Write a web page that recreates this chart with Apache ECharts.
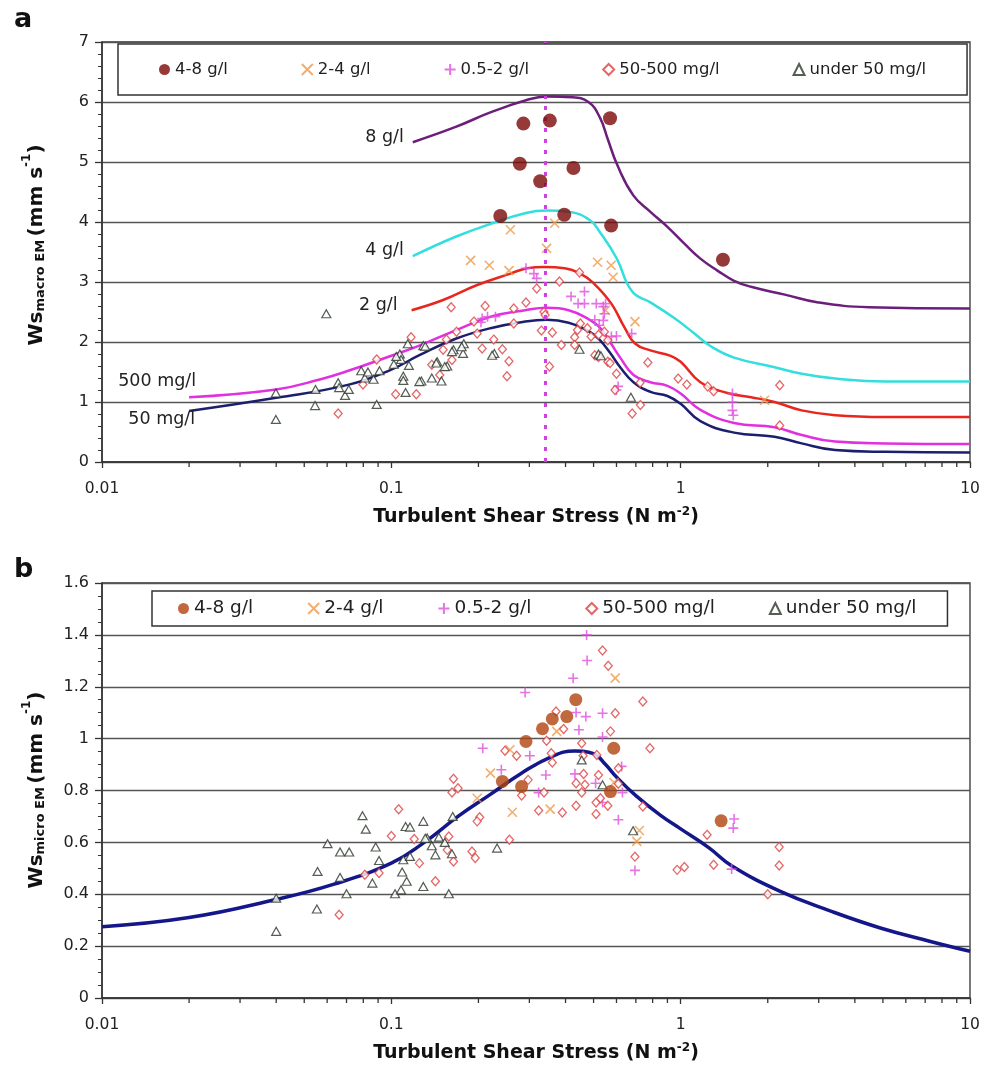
<!DOCTYPE html>
<html><head><meta charset="utf-8">
<script src="https://cdn.jsdelivr.net/npm/echarts@6/dist/echarts.min.js"></script>
<style>html,body{margin:0;padding:0;background:#fff}#c{width:988px;height:1070px}</style>
</head><body><div id="c"></div>
<script>
// ---------- shared ----------
const xTickMinor = [0.02,0.03,0.04,0.05,0.06,0.07,0.08,0.09,0.2,0.3,0.4,0.5,0.6,0.7,0.8,0.9,2,3,4,5,6,7,8,9];
const groupNames = ['4-8 g/l','2-4 g/l','0.5-2 g/l','50-500 mg/l','under 50 mg/l'];
const curveNames = ['8 g/l','4 g/l','2 g/l','500 mg/l','50 mg/l'];
const peakStress = 0.337;

// ---------- panel a : Ws macro ----------
const a_48 = [[0.286,5.64],[0.353,5.69],[0.57,5.73],[0.278,4.97],[0.426,4.9],[0.327,4.68],[0.238,4.1],[0.396,4.12],[0.575,3.94],[1.4,3.37]];
const a_24 = [[0.258,3.87],[0.344,3.56],[0.367,3.98],[0.188,3.36],[0.218,3.28],[0.255,3.19],[0.516,3.33],[0.575,3.28],[0.584,3.08],[0.55,2.53],[0.695,2.34],[1.95,1.03]];
const a_052 = [[0.292,3.23],[0.311,3.14],[0.318,3.06],[0.206,2.39],[0.215,2.42],[0.229,2.42],[0.204,2.33],[0.418,2.76],[0.465,2.84],[0.442,2.64],[0.465,2.64],[0.511,2.64],[0.55,2.64],[0.505,2.37],[0.523,2.28],[0.576,2.09],[0.6,2.1],[0.677,2.14],[0.608,1.26],[0.6,1.2],[0.54,2.59],[0.545,2.47],[0.54,2.36],[1.51,1.14],[1.51,1.0],[1.51,0.86],[1.52,0.78]];
const a_50500 = [[0.117,2.08],[0.161,2.58],[0.211,2.6],[0.265,2.56],[0.292,2.66],[0.318,2.89],[0.381,3.01],[0.447,3.16],[0.193,2.34],[0.198,2.14],[0.265,2.31],[0.337,2.5],[0.34,2.45],[0.33,2.19],[0.36,2.16],[0.387,1.95],[0.352,1.59],[0.168,2.17],[0.155,2.04],[0.151,1.87],[0.206,1.89],[0.226,2.04],[0.242,1.88],[0.255,1.68],[0.251,1.43],[0.162,1.7],[0.138,1.62],[0.147,1.45],[0.122,1.13],[0.1035,1.13],[0.089,1.71],[0.43,2.08],[0.44,2.2],[0.43,1.95],[0.45,2.31],[0.476,2.23],[0.49,2.09],[0.52,2.12],[0.545,2.17],[0.56,2.03],[0.505,1.78],[0.52,1.75],[0.56,1.67],[0.6,1.47],[0.593,1.2],[0.724,1.32],[0.726,0.95],[0.68,0.81],[0.77,1.66],[0.98,1.39],[1.05,1.29],[1.24,1.26],[1.3,1.18],[2.2,1.28],[2.2,0.61],[0.0655,0.81],[0.0798,1.29],[0.57,1.65]];
const a_u50 = [[0.0596,2.47],[0.0399,1.15],[0.0399,0.71],[0.0545,0.94],[0.0547,1.21],[0.0655,1.32],[0.066,1.24],[0.0692,1.11],[0.0713,1.21],[0.0787,1.52],[0.081,1.4],[0.083,1.5],[0.0868,1.38],[0.091,1.52],[0.089,0.96],[0.102,1.63],[0.107,1.8],[0.108,1.71],[0.114,1.97],[0.115,1.61],[0.11,1.43],[0.11,1.36],[0.112,1.16],[0.129,1.94],[0.131,1.93],[0.127,1.35],[0.138,1.4],[0.149,1.35],[0.144,1.67],[0.156,1.6],[0.164,1.87],[0.177,1.81],[0.178,1.97],[0.227,1.81],[0.447,1.88],[0.52,1.8],[0.673,1.08],[0.125,1.34],[0.104,1.76],[0.143,1.65],[0.153,1.59],[0.162,1.84],[0.175,1.92],[0.223,1.78],[0.53,1.77]];
const a_c8 = [[0.1186,5.33],[0.166,5.58],[0.221,5.83],[0.292,6.03],[0.345,6.09],[0.42,6.08],[0.48,6.0],[0.526,5.74],[0.56,5.38],[0.605,4.94],[0.687,4.44],[0.786,4.17],[0.9,3.92],[1.03,3.64],[1.17,3.39],[1.34,3.19],[1.53,3.02],[1.75,2.92],[2.29,2.79],[2.99,2.66],[4.47,2.58],[10,2.56]];
const a_c4 = [[0.1186,3.43],[0.166,3.75],[0.221,3.97],[0.292,4.15],[0.345,4.19],[0.41,4.17],[0.486,4.03],[0.526,3.83],[0.6,3.4],[0.68,2.84],[0.786,2.66],[0.95,2.4],[1.11,2.15],[1.27,1.93],[1.53,1.74],[2.11,1.58],[2.62,1.47],[3.42,1.39],[5.1,1.34],[10,1.34]];
const a_c2 = [[0.1175,2.53],[0.151,2.7],[0.198,2.95],[0.258,3.14],[0.295,3.23],[0.338,3.25],[0.397,3.23],[0.45,3.14],[0.5,2.98],[0.576,2.64],[0.64,2.24],[0.697,1.97],[0.786,1.86],[0.923,1.77],[1.0,1.67],[1.17,1.33],[1.45,1.15],[1.75,1.08],[2.11,1.0],[2.62,0.86],[3.42,0.78],[5.1,0.75],[10,0.75]];
const a_c500 = [[0.02,1.08],[0.04,1.21],[0.057,1.38],[0.071,1.52],[0.1,1.77],[0.125,1.94],[0.166,2.19],[0.22,2.42],[0.29,2.53],[0.345,2.57],[0.41,2.53],[0.485,2.37],[0.526,2.24],[0.57,2.0],[0.618,1.74],[0.687,1.45],[0.786,1.33],[0.9,1.27],[1.0,1.14],[1.17,0.87],[1.53,0.65],[2.11,0.58],[2.62,0.45],[3.42,0.34],[5.1,0.31],[10,0.3]];
const a_c50 = [[0.02,0.85],[0.04,1.07],[0.0713,1.29],[0.1,1.54],[0.125,1.78],[0.166,2.05],[0.22,2.23],[0.29,2.34],[0.345,2.37],[0.41,2.32],[0.485,2.17],[0.526,2.03],[0.57,1.82],[0.618,1.58],[0.687,1.33],[0.786,1.17],[0.9,1.1],[1.0,0.97],[1.17,0.68],[1.53,0.49],[2.11,0.42],[2.62,0.31],[3.42,0.2],[5.1,0.17],[10,0.16]];

// ---------- panel b : Ws micro ----------
const b_48 = [[0.434,1.15],[0.404,1.085],[0.36,1.076],[0.333,1.038],[0.292,0.989],[0.587,0.963],[0.242,0.835],[0.282,0.815],[0.572,0.796],[1.38,0.683]];
const b_24 = [[0.594,1.233],[0.373,1.028],[0.257,0.957],[0.22,0.867],[0.198,0.77],[0.262,0.716],[0.354,0.728],[0.588,0.831],[0.72,0.646],[0.705,0.604]];
const b_052 = [[0.473,1.4],[0.475,1.301],[0.425,1.233],[0.29,1.178],[0.435,1.101],[0.47,1.085],[0.537,1.098],[0.445,1.034],[0.537,1.006],[0.207,0.963],[0.301,0.934],[0.24,0.88],[0.342,0.86],[0.431,0.864],[0.508,0.828],[0.625,0.893],[0.629,0.792],[0.323,0.792],[0.609,0.687],[0.537,0.754],[0.695,0.492],[1.53,0.69],[1.52,0.655],[1.5,0.497]];
const b_50500 = [[0.537,1.34],[0.562,1.281],[0.74,1.143],[0.594,1.098],[0.371,1.105],[0.394,1.037],[0.572,1.028],[0.455,0.982],[0.344,0.992],[0.783,0.963],[0.247,0.953],[0.271,0.934],[0.357,0.944],[0.36,0.908],[0.46,0.934],[0.513,0.937],[0.609,0.886],[0.462,0.864],[0.435,0.828],[0.467,0.822],[0.52,0.86],[0.609,0.826],[0.455,0.792],[0.337,0.792],[0.297,0.841],[0.282,0.781],[0.51,0.754],[0.528,0.77],[0.56,0.741],[0.435,0.741],[0.323,0.723],[0.39,0.715],[0.51,0.709],[0.74,0.738],[0.164,0.845],[0.17,0.809],[0.162,0.792],[0.202,0.697],[0.198,0.681],[0.256,0.61],[0.158,0.623],[0.156,0.571],[0.164,0.526],[0.19,0.565],[0.195,0.54],[0.142,0.45],[0.695,0.545],[0.972,0.494],[1.03,0.505],[1.234,0.629],[1.3,0.514],[2.19,0.582],[2.19,0.511],[2.0,0.4],[0.066,0.321],[0.106,0.728],[0.1,0.625],[0.12,0.613],[0.125,0.52],[0.081,0.475],[0.0907,0.482]];
const b_u50 = [[0.04,0.257],[0.04,0.385],[0.0553,0.343],[0.0556,0.488],[0.0602,0.595],[0.0665,0.563],[0.0715,0.563],[0.0665,0.465],[0.07,0.402],[0.0795,0.703],[0.0816,0.651],[0.0883,0.582],[0.0907,0.53],[0.086,0.443],[0.103,0.402],[0.108,0.417],[0.109,0.486],[0.113,0.45],[0.112,0.661],[0.116,0.659],[0.11,0.533],[0.116,0.546],[0.129,0.681],[0.133,0.617],[0.129,0.43],[0.131,0.616],[0.138,0.587],[0.142,0.552],[0.146,0.62],[0.153,0.6],[0.162,0.556],[0.163,0.7],[0.232,0.578],[0.158,0.402],[0.455,0.918],[0.537,0.822],[0.685,0.645]];
const b_curve = [[0.01,0.275],[0.02,0.31],[0.04,0.38],[0.063,0.438],[0.1,0.52],[0.13,0.6],[0.17,0.7],[0.22,0.785],[0.28,0.865],[0.36,0.932],[0.43,0.952],[0.5,0.942],[0.55,0.9],[0.6,0.852],[0.7,0.78],[0.85,0.705],[1.0,0.652],[1.25,0.58],[1.5,0.51],[2.2,0.412],[3.3,0.335],[4.9,0.27],[7.3,0.218],[10,0.18]];

// ---------- build ----------
const FF = 'DejaVu Sans';
const crossPath = 'path://M0,0L10,10M10,0L0,10';
const plusPath = 'path://M5,0L5,10M0,5L10,5';

function markers(prefix, gi, data, dotColor, dotSize) {
  const base = {type:'scatter', xAxisIndex:gi, yAxisIndex:gi, z:3};
  return [
    Object.assign({}, base, {name:prefix+groupNames[0], data:data[0], symbol:'circle', symbolSize:dotSize, itemStyle:{color:dotColor}, z:5}),
    Object.assign({}, base, {name:prefix+groupNames[1], data:data[1], symbol:crossPath, symbolSize:9, itemStyle:{color:'rgba(0,0,0,0)', borderColor:'#ee9a4a', borderWidth:1.6}}),
    Object.assign({}, base, {name:prefix+groupNames[2], data:data[2], symbol:plusPath, symbolSize:10, itemStyle:{color:'rgba(0,0,0,0)', borderColor:'#e050e0', borderWidth:1.6}}),
    Object.assign({}, base, {name:prefix+groupNames[3], data:data[3], symbol:'diamond', symbolSize:[8,9], itemStyle:{color:'#fff', borderColor:'#dd4040', borderWidth:1.3}}),
    Object.assign({}, base, {name:prefix+groupNames[4], data:data[4], symbol:'triangle', symbolSize:[9,8], itemStyle:{color:'#fff', borderColor:'#2b362b', borderWidth:1.2}})
  ];
}

function curve(name, gi, data, color, width, lab) {
  const s = {type:'line', name:name, xAxisIndex:gi, yAxisIndex:gi, data:data, showSymbol:false, symbol:'none',
    smooth:0.45, lineStyle:{color:color, width:width}, z:2, silent:true};
  if (lab) {
    s.markPoint = {symbol:'circle', symbolSize:0, silent:true, data:[{coord:data[0], value:name,
      label:{show:true, position:'left', distance:lab[0], offset:[0,lab[1]], formatter:name,
        fontFamily:FF, fontSize:17.5, color:'#222'}}]};
  }
  return s;
}

function minorTickSeries(gi) {
  return {type:'custom', xAxisIndex:gi, yAxisIndex:gi, silent:true, z:1, clip:false,
    data: xTickMinor.map(v => [v, 0]),
    renderItem: function(params, api) {
      const p = api.coord([api.value(0), api.value(1)]);
      return {type:'line', shape:{x1:p[0], y1:p[1], x2:p[0], y2:p[1]+5}, style:{stroke:'#333', lineWidth:1.3}};
    }};
}

const titleRich = {sup:{fontFamily:FF, fontWeight:'bold', fontSize:12, color:'#111', verticalAlign:'top', padding:[0,0,10,0]}};

function xAxis(gi) {
  return {type:'log', logBase:10, min:0.01, max:10, gridIndex:gi,
    axisLine:{show:true, onZero:false, lineStyle:{color:'#333', width:1.5}},
    axisTick:{show:true, length:6, lineStyle:{color:'#333', width:1.3}},
    axisLabel:{fontFamily:FF, fontSize:15.5, color:'#222', margin:19},
    splitLine:{show:false},
    name:'Turbulent Shear Stress (N m{sup|-2})', nameLocation:'middle', nameGap:44,
    nameTextStyle:{fontFamily:FF, fontWeight:'bold', fontSize:19, color:'#111', rich:titleRich}};
}
function yAxis(gi, max, interval, minorSplit) {
  return {type:'value', min:0, max:max, interval:interval, gridIndex:gi,
    axisLine:{show:true, lineStyle:{color:'#333', width:1.5}},
    axisTick:{show:true, length:7, lineStyle:{color:'#333', width:1.3}},
    minorTick:{show:true, splitNumber:minorSplit, length:4, lineStyle:{color:'#333', width:1}},
    axisLabel:{fontFamily:FF, fontSize:16, color:'#222', margin:13},
    splitLine:{show:true, lineStyle:{color:'#555', width:1.4}}};
}

const series = [].concat(
  [
    curve(curveNames[0], 0, a_c8, '#6b1f7a', 2.5, [9,-5]),
    curve(curveNames[1], 0, a_c4, '#33dede', 2.5, [9,-6]),
    curve(curveNames[2], 0, a_c2, '#e8261e', 2.5, [14,-5]),
    curve(curveNames[3], 0, a_c500, '#e030e0', 2.5, [-7,-16]),
    curve(curveNames[4], 0, a_c50, '#1c1f6e', 2.5, [-6,8])
  ],
  markers('', 0, [a_48, a_24, a_052, a_50500, a_u50], '#7a0808', 14),
  [
    {type:'line', name:'peak', xAxisIndex:0, yAxisIndex:0, data:[], silent:true,
     markLine:{symbol:'none', silent:true, label:{show:false},
       lineStyle:{color:'#d040e0', width:3, type:[4,7]}, data:[{xAxis:peakStress}]}},
    minorTickSeries(0),
    curve('micro', 1, b_curve, '#14178a', 3.5, null)
  ],
  markers('b ', 1, [b_48, b_24, b_052, b_50500, b_u50], '#b0420e', 13),
  [minorTickSeries(1)]
);

const legendBase = {orient:'horizontal', selectedMode:false, itemWidth:11, itemHeight:11,
  borderColor:'#333', borderWidth:1.5, backgroundColor:'#fff', borderRadius:0, z:10};

const option = {
  animation:false,
  backgroundColor:'#fff',
  grid:[
    {left:102, top:42, width:868, height:420, show:true, borderColor:'#333', borderWidth:1.3, backgroundColor:'transparent'},
    {left:102, top:583, width:868, height:415, show:true, borderColor:'#333', borderWidth:1.3, backgroundColor:'transparent'}
  ],
  xAxis:[xAxis(0), xAxis(1)],
  yAxis:[yAxis(0, 7, 1, 5), yAxis(1, 1.6, 0.2, 4)],
  legend:[
    Object.assign({}, legendBase, {left:118, top:44, padding:[17,41,17,41], itemGap:73,
      data:groupNames.slice(), textStyle:{fontFamily:FF, fontSize:16.5, color:'#222'}}),
    Object.assign({}, legendBase, {left:152, top:591, padding:[8,31,8,26], itemGap:54,
      data:groupNames.map(n => 'b ' + n), formatter:function(n){return n.slice(2);},
      textStyle:{fontFamily:FF, fontSize:18.5, color:'#222'}})
  ],
  graphic:[
    {type:'text', left:14, top:6, style:{text:'a', fontFamily:FF, fontWeight:'bold', fontSize:27, fill:'#111'}},
    {type:'text', left:14, top:556, style:{text:'b', fontFamily:FF, fontWeight:'bold', fontSize:27, fill:'#111'}},
    {type:'text', x:34, y:245, rotation:Math.PI/2,
     style:{text:'{w|Ws}{s|macro EM} {w|(mm s}{u|-1}{w|)}', align:'center', verticalAlign:'middle',
       rich:{w:{fontFamily:FF, fontWeight:'bold', fontSize:20, fill:'#111', verticalAlign:'bottom', lineHeight:24},
             s:{fontFamily:FF, fontWeight:'bold', fontSize:13, fill:'#111', verticalAlign:'bottom', lineHeight:18},
             u:{fontFamily:FF, fontWeight:'bold', fontSize:12, fill:'#111', verticalAlign:'top', lineHeight:26}}}},
    {type:'text', x:34, y:790, rotation:Math.PI/2,
     style:{text:'{w|Ws}{s|micro EM} {w|(mm s}{u|-1}{w|)}', align:'center', verticalAlign:'middle',
       rich:{w:{fontFamily:FF, fontWeight:'bold', fontSize:20, fill:'#111', verticalAlign:'bottom', lineHeight:24},
             s:{fontFamily:FF, fontWeight:'bold', fontSize:13, fill:'#111', verticalAlign:'bottom', lineHeight:18},
             u:{fontFamily:FF, fontWeight:'bold', fontSize:12, fill:'#111', verticalAlign:'top', lineHeight:26}}}}
  ],
  series:series
};

const chart = echarts.init(document.getElementById('c'), null, {renderer:'canvas'});
chart.setOption(option);
</script></body></html>
